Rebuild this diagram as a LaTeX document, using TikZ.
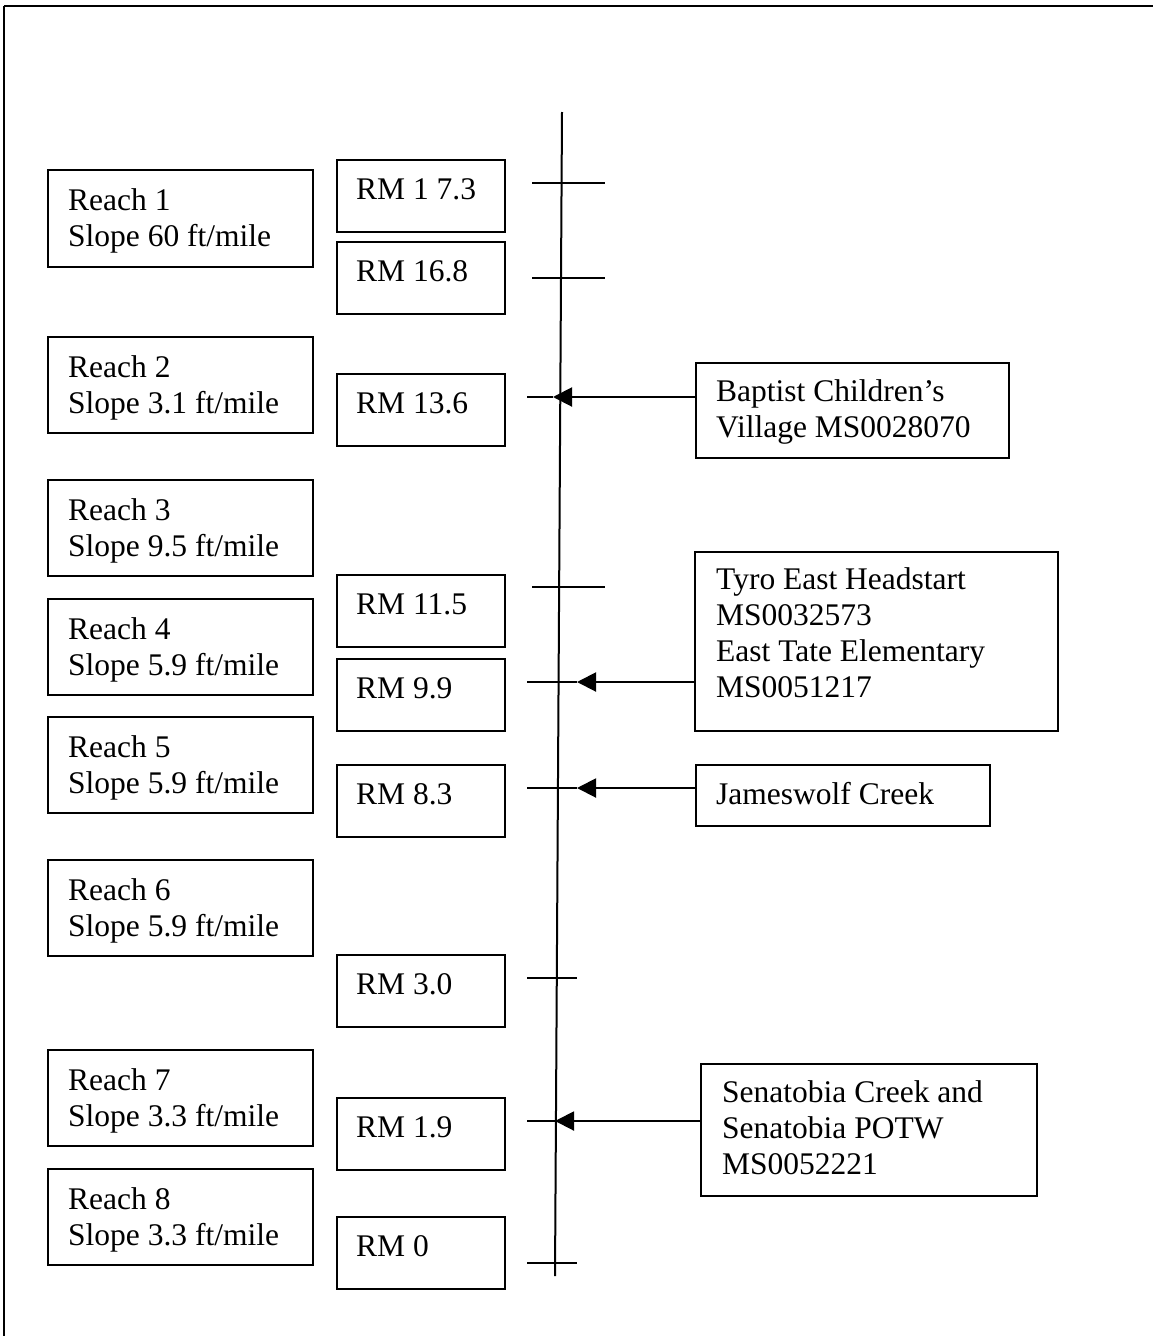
\documentclass[tikz,border=0pt]{standalone}
\usepackage{fontspec}
\setmainfont{Liberation Serif}
\usetikzlibrary{arrows.meta}
\begin{document}
\begin{tikzpicture}[x=1pt,y=-1pt,
  box/.style={draw,line width=2pt,anchor=north west,inner sep=0pt},
  lbl/.style={anchor=base west,inner sep=0pt,align=left,font=\fontsize{31.5}{36}\selectfont},
  axis/.style={line width=2pt},
  flow/.style={line width=2pt,-{Triangle[length=19pt,width=19pt]}}]
\useasboundingbox (0,0) rectangle (1152,1336);
% frame
\draw[line width=2.8pt] (4,6) -- (1160,6);
\draw[line width=2pt] (4,6) -- (4,1345);
% main river line
\coordinate (top) at (562,112);
\coordinate (bot) at (555,1276);
\draw[axis] (top) -- (bot);
% reach boxes
\foreach \n/\t/\b/\s in {1/169/266/60,2/336/432/3.1,3/479/575/9.5,4/598/694/5.9,5/716/812/5.9,6/859/955/5.9,7/1049/1145/3.3,8/1168/1264/3.3}{
  \node[box,minimum width=265pt,minimum height={\b-\t}] (reach\n) at (47,\t) {};
  \node[lbl] (reach\n t) at (68,\t+77) {Reach \n\\Slope \s\ ft/mile};
}
% RM boxes
\foreach \k/\t/\txt in {a/159/RM 1 7.3,b/241/RM 16.8,c/373/RM 13.6,d/574/RM 11.5,e/658/RM 9.9,f/764/RM 8.3,g/954/RM 3.0,h/1097/RM 1.9,i/1216/RM 0}{
  \node[box,minimum width=168pt,minimum height=72pt] (rm\k) at (336,\t) {};
  \node[lbl] (rm\k t) at (356,\t+40) {\txt};
}
% right boxes
\node[box,minimum width=313pt,minimum height=95pt] (bap) at (695,362) {};
\node[lbl] (bapt) at (716,437) {Baptist Children’s\\Village MS0028070};
\node[box,minimum width=363pt,minimum height=179pt] (tyro) at (694,551) {};
\node[lbl] (tyrot) at (716,697) {Tyro East Headstart\\MS0032573\\East Tate Elementary\\MS0051217};
\node[box,minimum width=294pt,minimum height=61pt] (jam) at (695,764) {};
\node[lbl] (jamt) at (716,804) {Jameswolf Creek};
\node[box,minimum width=336pt,minimum height=132pt] (sen) at (700,1063) {};
\node[lbl] (sent) at (722,1174) {Senatobia Creek and\\Senatobia POTW\\MS0052221};
% ticks
\coordinate (ta1) at (532,183); \coordinate (ta2) at (605,183);
\coordinate (tb1) at (532,278); \coordinate (tb2) at (605,278);
\coordinate (tc1) at (527,397); \coordinate (tc2) at (553,397);
\coordinate (td1) at (532,587); \coordinate (td2) at (605,587);
\coordinate (te1) at (527,682); \coordinate (te2) at (577,682);
\coordinate (tf1) at (527,788); \coordinate (tf2) at (577,788);
\coordinate (tg1) at (527,978); \coordinate (tg2) at (577,978);
\coordinate (th1) at (527,1121); \coordinate (th2) at (555,1121);
\coordinate (ti1) at (527,1263); \coordinate (ti2) at (577,1263);
\foreach \k in {a,b,c,d,e,f,g,h,i}{\draw[axis] (t\k1) -- (t\k2);}
% inflows
\draw[flow] (bap.west |- tc2) -- (tc2);
\draw[flow] (tyro.west |- te2) -- (te2);
\draw[flow] (jam.west |- tf2) -- (tf2);
\draw[flow] (sen.west |- th2) -- (th2);
\end{tikzpicture}
\end{document}
